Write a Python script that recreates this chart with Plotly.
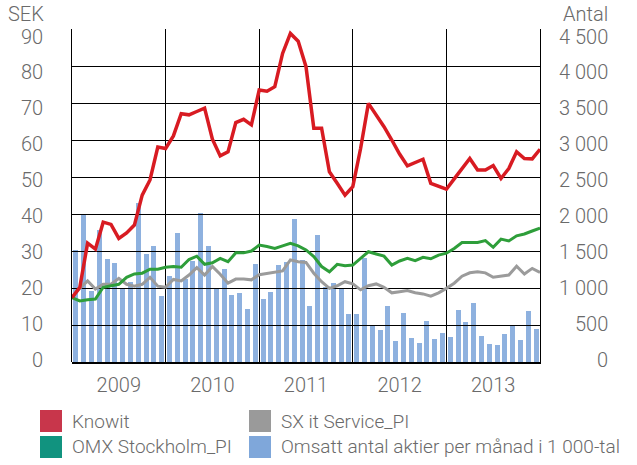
import plotly.graph_objects as go

# ---------------- data ----------------
years = ["2009", "2010", "2011", "2012", "2013"]

# month-boundary closing values (Jan 2009 .. Jan 2014), SEK
knowit = [17.4, 20.2, 32.1, 30.5, 37.8, 37.2, 33.4, 34.9, 37.0, 45.1, 49.2,
          58.1, 57.7, 61.1, 67.1, 66.8, 67.7, 68.6, 60.2, 55.7, 56.8, 64.7, 65.6, 64.1, 73.5,
          73.2, 74.4, 83.4, 88.8, 86.7, 79.8, 63.2, 63.2, 51.4, 48.3, 45.1, 47.4,
          57.7, 69.9, 66.8, 63.6, 60.0, 56.2, 53.0, 54.0, 54.8, 48.3, 47.4, 46.7,
          49.5, 52.3, 55.0, 51.9, 51.9, 53.1, 49.6, 52.3, 56.8, 55.0, 54.9, 57.5]
omx = [17.4, 16.5, 16.8, 17.0, 20.2, 20.5, 21.0, 22.9, 23.8, 24.0, 25.1, 25.1, 25.6,
       25.8, 25.6, 27.7, 28.6, 26.4, 26.8, 28.0, 27.1, 29.5, 29.5, 30.0, 31.6,
       31.2, 30.7, 31.4, 32.1, 31.4, 30.3, 28.5, 25.8, 24.4, 26.4, 26.0, 26.2,
       28.0, 29.8, 29.2, 28.6, 26.2, 27.3, 28.0, 27.4, 28.3, 27.9, 28.9, 29.4,
       30.7, 32.3, 32.3, 32.3, 32.8, 31.0, 33.2, 32.7, 34.1, 34.6, 35.4, 36.2]
sx_service = [17.4, 19.9, 21.9, 19.7, 21.0, 21.0, 22.6, 21.0, 20.5, 21.0, 22.9, 20.5, 20.2,
              22.3, 21.9, 23.5, 25.5, 23.5, 25.8, 23.7, 21.3, 22.4, 22.4, 22.2, 23.6,
              24.0, 24.4, 24.6, 27.6, 27.1, 26.9, 24.0, 21.7, 19.9, 20.6, 21.7, 21.1,
              19.5, 20.6, 21.1, 20.2, 18.7, 19.0, 19.3, 18.7, 18.4, 17.8, 18.7, 19.9,
              21.3, 23.2, 24.1, 24.4, 24.1, 22.9, 23.2, 23.5, 25.9, 23.8, 25.3, 24.2]

# monthly traded shares, thousands
volume = [1513, 1996, 964, 1784, 1392, 1340, 1000, 1085, 2144, 1462, 1570, 892,
          1162, 1748, 1117, 1369, 2014, 1570, 990, 1257, 905, 932, 721, 1324,
          851, 946, 1311, 1351, 1932, 1378, 757, 1716, 1010, 1063, 996, 649,
          649, 1405, 495, 432, 757, 284, 662, 324, 257, 554, 311, 392,
          338, 703, 541, 797, 351, 243, 230, 378, 491, 297, 689, 446]

sek_ticks = [0, 10, 20, 30, 40, 50, 60, 70, 80, 90]
antal_ticks = [0, 500, 1000, 1500, 2000, 2500, 3000, 3500, 4000, 4500]
antal_labels = ["0", "500", "1 000", "1 500", "2 000", "2 500", "3 000", "3 500", "4 000", "4 500"]

legend_names = ["Knowit", "SX it Service_PI", "OMX Stockholm_PI",
                "Omsatt antal aktier per månad i 1 000-tal"]

# ---------------- styles ----------------
W, H = 637, 465
L, R, T, B = 72, 540, 29, 362
RED, GREEN, GREY, BLUE = "#D81B22", "#2E9E3A", "#9B9B9B", "#8EB1DF"
LEG_COLORS = ["#C8364B", "#9A9A9A", "#11937F", "#7FA7DA"]
TXT = "#6A6A6A"
FONT = "Roboto"


def px2x(px):
    return (px - L) / (R - L)


def px2y(py):
    return (B - py) / (B - T)


n_months = len(volume)
bar_x = [i + 0.5 for i in range(n_months)]
line_x = list(range(n_months + 1))
year_centers = [12 * k + 6 for k in range(len(years))]
year_bounds = [12 * k for k in range(1, len(years))]

fig = go.Figure()
fig.add_trace(go.Bar(x=bar_x, y=volume, xaxis="x", yaxis="y", width=0.64,
                     marker=dict(color=BLUE, line_width=0), showlegend=False,
                     name=legend_names[3]))
fig.add_trace(go.Scatter(x=line_x, y=sx_service, xaxis="x2", yaxis="y2", mode="lines",
                         line=dict(color=GREY, width=3), showlegend=False, name=legend_names[1]))
fig.add_trace(go.Scatter(x=line_x, y=omx, xaxis="x2", yaxis="y2", mode="lines",
                         line=dict(color=GREEN, width=3), showlegend=False, name=legend_names[2]))
fig.add_trace(go.Scatter(x=line_x, y=knowit, xaxis="x2", yaxis="y2", mode="lines",
                         line=dict(color=RED, width=3.5), showlegend=False, name=legend_names[0]))

annotations = []
shapes = []
tick_font = dict(family=FONT, size=20, color=TXT, weight=300)

# left axis labels (SEK)
for v in sek_ticks:
    annotations.append(dict(xref="paper", yref="y2", x=px2x(45), y=v, xanchor="right",
                            yanchor="middle", yshift=2 - 9.5 * v / 90, text=str(v),
                            showarrow=False, font=tick_font))
# right axis labels (Antal)
for v, lab in zip(antal_ticks, antal_labels):
    annotations.append(dict(xref="paper", yref="y", x=px2x(610), y=v, xanchor="right",
                            yanchor="middle", yshift=2 - 9.5 * v / 4500, text=lab,
                            showarrow=False, font=tick_font))
annotations.append(dict(xref="paper", yref="paper", x=px2x(46), y=px2y(14), xanchor="right",
                        yanchor="middle", text="SEK", showarrow=False, font=tick_font))
annotations.append(dict(xref="paper", yref="paper", x=px2x(610), y=px2y(14), xanchor="right",
                        yanchor="middle", text="Antal", showarrow=False, font=tick_font))

# legend (two columns, two rows)
leg_font = dict(family=FONT, size=19, color=TXT, weight=300)
leg_pos = [(40, 421), (249, 421), (40, 447), (249, 447)]
for name, col, (sx, sy) in zip(legend_names, LEG_COLORS, leg_pos):
    shapes.append(dict(type="rect", xref="paper", yref="paper",
                       x0=px2x(sx), x1=px2x(sx + 22), y0=px2y(sy - 11), y1=px2y(sy + 11),
                       fillcolor=col, line=dict(width=0)))
    annotations.append(dict(xref="paper", yref="paper", x=px2x(sx + 30), y=px2y(sy),
                            xanchor="left", yanchor="middle", text=name, showarrow=False,
                            font=leg_font))

fig.update_layout(
    template="none",
    width=W, height=H,
    margin=dict(l=L, r=W - R, t=T, b=H - B, pad=0, autoexpand=False),
    paper_bgcolor="white", plot_bgcolor="rgba(0,0,0,0)",
    showlegend=False, bargap=0, hovermode=False,
    font=dict(family=FONT, color=TXT),
    xaxis=dict(domain=[0, 1], range=[0, n_months], anchor="y", tickmode="array",
               tickvals=year_centers, ticktext=years, ticks="", showgrid=False,
               zeroline=False, showline=True, linecolor="black", linewidth=2,
               tickfont=tick_font, ticklabelstandoff=4, automargin=False),
    yaxis=dict(domain=[0, 1], range=[0, 4500], anchor="x", side="right",
               showgrid=False, zeroline=False, showticklabels=False, ticks="",
               showline=True, linecolor="black", linewidth=1, automargin=False),
    xaxis2=dict(domain=[0, 1], range=[0, n_months], anchor="y2", tickmode="array",
                tickvals=year_bounds, showticklabels=False, ticks="", showgrid=True,
                gridcolor="black", gridwidth=1, zeroline=False, showline=False,
                automargin=False),
    yaxis2=dict(domain=[0, 1], range=[0, 90], anchor="x2", side="left", tickmode="array",
                tickvals=sek_ticks, showticklabels=False, ticks="", showgrid=True,
                gridcolor="black", gridwidth=1, zeroline=False, showline=True,
                linecolor="black", linewidth=1, automargin=False),
    annotations=annotations, shapes=shapes,
)

fig.write_html("out.html", config={"displayModeBar": False, "staticPlot": True},
               post_script="document.body.style.margin='0';document.body.style.padding='0';")
